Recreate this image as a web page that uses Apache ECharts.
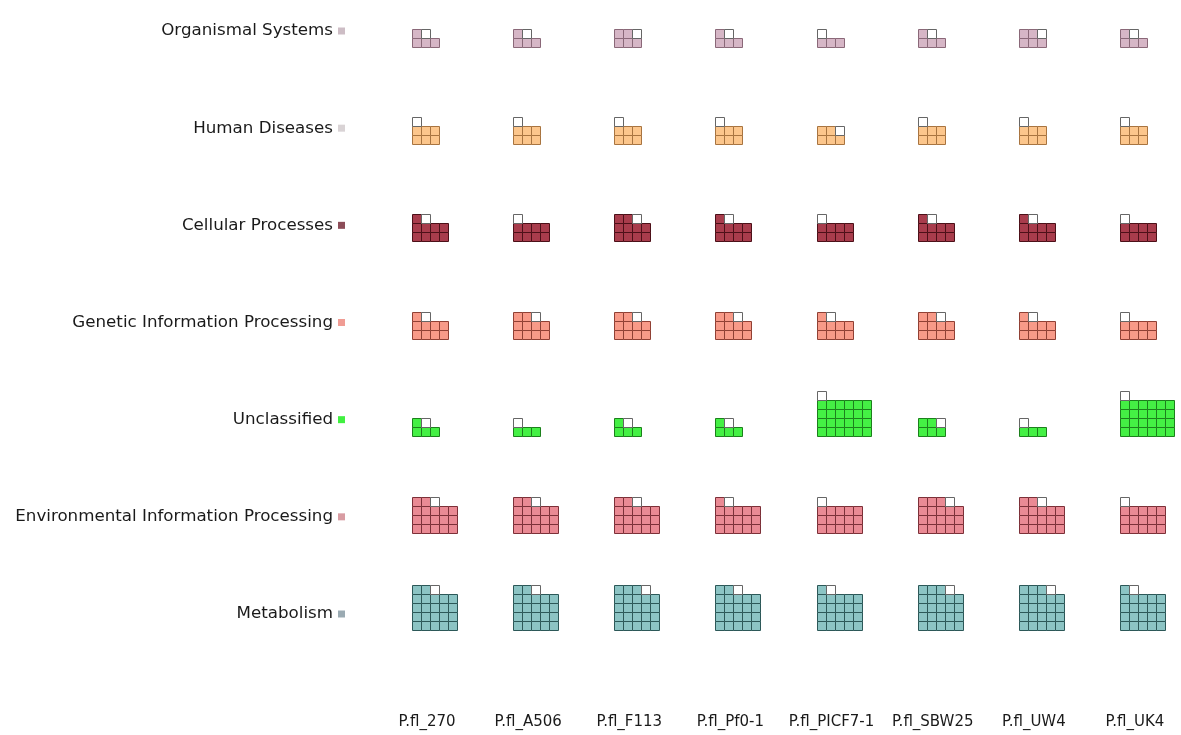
<!DOCTYPE html>
<html>
<head>
<meta charset="utf-8">
<script src="https://cdn.jsdelivr.net/npm/echarts@6/dist/echarts.min.js"></script>
<style>html,body{margin:0;background:#fff}#chart{width:1181px;height:735px}</style>
</head>
<body>
<div id="chart"></div>
<script>
"use strict";

var strains = ["P.fl_270", "P.fl_A506", "P.fl_F113", "P.fl_Pf0-1", "P.fl_PICF7-1", "P.fl_SBW25", "P.fl_UW4", "P.fl_UK4"];
var categories = ["Organismal Systems", "Human Diseases", "Cellular Processes", "Genetic Information Processing",
    "Unclassified", "Environmental Information Processing", "Metabolism"];

// filled squares per glyph, one value per strain; every glyph ends with one open square (the remainder)
var organismal = [4, 4, 5, 4, 3, 4, 5, 4];
var humanDiseases = [6, 6, 6, 6, 5, 6, 6, 6];
var cellular = [9, 8, 10, 9, 8, 9, 9, 8];
var genetic = [9, 10, 10, 10, 9, 10, 9, 8];
var unclassified = [4, 3, 4, 4, 24, 5, 3, 24];
var environmental = [17, 17, 17, 16, 15, 18, 17, 15];
var metabolism = [22, 22, 23, 22, 21, 23, 23, 21];

var values = [organismal, humanDiseases, cellular, genetic, unclassified, environmental, metabolism];
var fills = ["#d6b6c6", "#fcc68c", "#a83c4c", "#f89a88", "#44f044", "#ea8a94", "#8cc4c4"];
var strokes = ["#8a6878", "#a87440", "#4c1018", "#904034", "#1c801c", "#7c3038", "#2c5858"];
var markers = ["#cdbdc5", "#d9d3d5", "#8c4c58", "#f09c94", "#40f040", "#d89ca2", "#9aaab2"];

var CELL = 9;

function renderItem(params, api) {
    var c = api.coord([api.value(0), api.value(1)]);
    var filled = api.value(2);
    var total = filled + 1;
    var cols = Math.ceil(Math.sqrt(total + 1));
    var left = Math.round(c[0]) - 15 + 0.5;
    var bottom = Math.round(c[1]) + 16 + 0.5;
    var k, children = [];
    for (k = 0; k < total; k++) {
        var col = k % cols, row = Math.floor(k / cols);
        children.push({
            type: "rect",
            shape: { x: left + col * CELL, y: bottom - (row + 1) * CELL, width: CELL, height: CELL },
            style: {
                fill: k < filled ? fills[params.seriesIndex] : "#fff",
                stroke: k < filled ? strokes[params.seriesIndex] : "#666",
                lineWidth: 1
            }
        });
    }
    return { type: "group", children: children };
}

var rich = { t: { fontSize: 16.7, color: "#1a1a1a", padding: [0, 5, 0, 0], fontFamily: "DejaVu Sans" } };
markers.forEach(function (m, i) {
    rich["m" + i] = { width: 7, height: 7, backgroundColor: m };
});

var series = values.map(function (arr, ci) {
    return {
        name: categories[ci],
        type: "custom",
        renderItem: renderItem,
        data: arr.map(function (v, si) { return [si, ci, v]; })
    };
});

var option = {
    animation: false,
    backgroundColor: "#fff",
    grid: { left: 427, right: 46, top: 31, bottom: 121 },
    xAxis: {
        type: "category",
        data: strains,
        boundaryGap: false,
        axisLine: { show: false },
        axisTick: { show: false },
        splitLine: { show: false },
        axisLabel: { margin: 101, fontSize: 15, color: "#1a1a1a", fontFamily: "DejaVu Sans", interval: 0 }
    },
    yAxis: {
        type: "category",
        data: categories,
        inverse: true,
        boundaryGap: false,
        axisLine: { show: false },
        axisTick: { show: false },
        splitLine: { show: false },
        axisLabel: {
            margin: 82,
            interval: 0,
            formatter: function (v, i) { return "{t|" + v + "}{m" + i + "|}"; },
            rich: rich
        }
    },
    series: series
};

echarts.init(document.getElementById("chart")).setOption(option);
</script>
</body>
</html>
